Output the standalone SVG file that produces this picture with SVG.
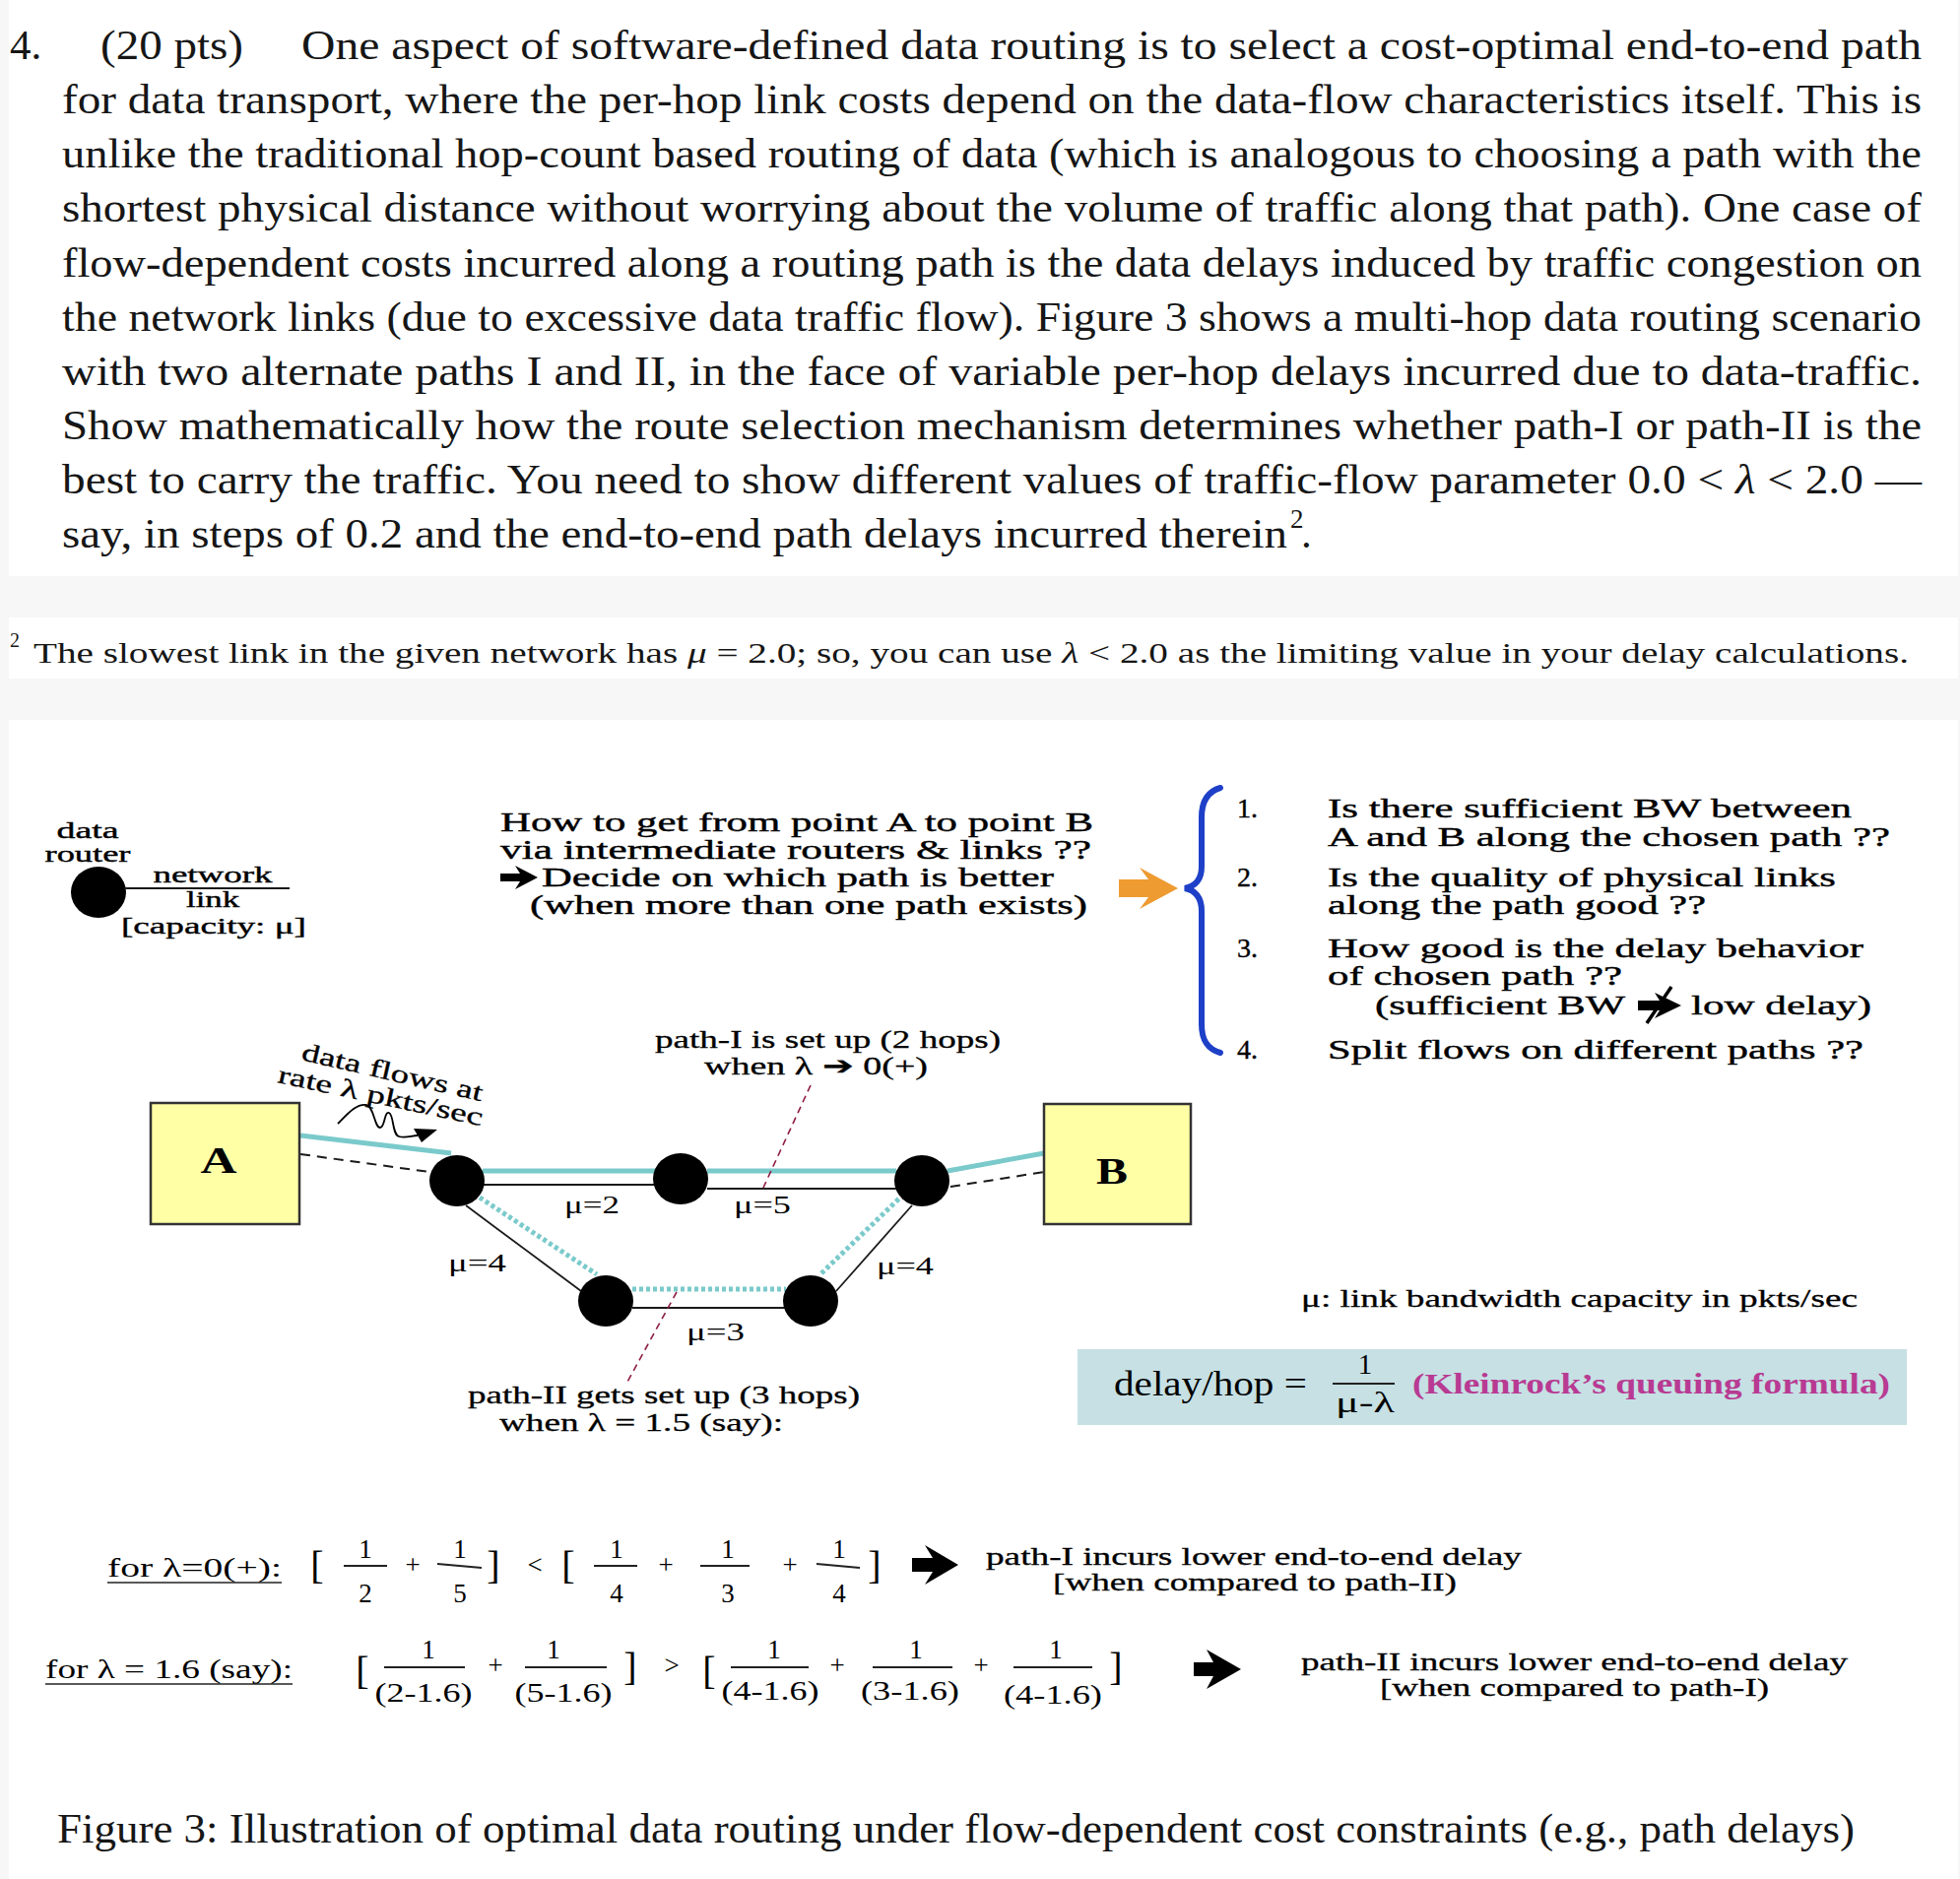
<svg xmlns="http://www.w3.org/2000/svg" width="1990" height="1908" viewBox="0 0 1990 1908">
<style>
text{font-family:"Liberation Serif","Times New Roman",serif;fill:#000}
.para{font-size:43px;fill:#161616}
.fn{font-size:30px;fill:#161616}
.q{font-size:28px;stroke:#000;stroke-width:0.4}
.lg{font-size:24px;stroke:#000;stroke-width:0.4}
.pl{font-size:26px;stroke:#000;stroke-width:0.3}
.mu{font-size:25px}
.f{font-size:27px}
.fc{font-size:25px;stroke:#000;stroke-width:0.3}
.br{font-size:40px}
.cap{font-size:42px;fill:#161616}
.mid{text-anchor:middle}
.teal{stroke:#7BCACB;stroke-width:5;fill:none}
.tdot{stroke:#7BCACB;stroke-width:5;fill:none;stroke-dasharray:4 3}
.blk{stroke:#1a1a1a;stroke-width:1.8;fill:none}
.dash{stroke:#1a1a1a;stroke-width:2;fill:none;stroke-dasharray:10 7}
.lead{stroke:#8E1D45;stroke-width:1.6;fill:none;stroke-dasharray:7 5}
.bar{stroke:#222;stroke-width:1.8}
.router{fill:#000}
.box{fill:#FFFFA6;stroke:#333;stroke-width:2.5}
</style>
<rect x="0" y="0" width="1990" height="1908" fill="#f7f7f7"/>
<rect x="9" y="0" width="1979" height="585" fill="#ffffff"/>
<rect x="9" y="627" width="1979" height="62" fill="#ffffff"/>
<rect x="9" y="731" width="1979" height="1177" fill="#ffffff"/>

<g id="paragraph">
<text class="para" x="10" y="60">4.</text>
<text class="para" x="102" y="60" textLength="145" lengthAdjust="spacingAndGlyphs">(20 pts)</text>
<text class="para" x="306" y="60" textLength="1645" lengthAdjust="spacingAndGlyphs">One aspect of software-defined data routing is to select a cost-optimal end-to-end path</text>
<text class="para" x="63" y="115" textLength="1888" lengthAdjust="spacingAndGlyphs">for data transport, where the per-hop link costs depend on the data-flow characteristics itself.  This is</text>
<text class="para" x="63" y="170" textLength="1888" lengthAdjust="spacingAndGlyphs">unlike the traditional hop-count based routing of data (which is analogous to choosing a path with the</text>
<text class="para" x="63" y="225" textLength="1888" lengthAdjust="spacingAndGlyphs">shortest physical distance without worrying about the volume of traffic along that path).  One case of</text>
<text class="para" x="63" y="281" textLength="1888" lengthAdjust="spacingAndGlyphs">flow-dependent costs incurred along a routing path is the data delays induced by traffic congestion on</text>
<text class="para" x="63" y="336" textLength="1888" lengthAdjust="spacingAndGlyphs">the network links (due to excessive data traffic flow).  Figure 3 shows a multi-hop data routing scenario</text>
<text class="para" x="63" y="391" textLength="1888" lengthAdjust="spacingAndGlyphs">with two alternate paths I and II, in the face of variable per-hop delays incurred due to data-traffic.</text>
<text class="para" x="63" y="446" textLength="1888" lengthAdjust="spacingAndGlyphs">Show mathematically how the route selection mechanism determines whether path-I or path-II is the</text>
<text class="para" x="63" y="501" textLength="1888" lengthAdjust="spacingAndGlyphs">best to carry the traffic.  You need to show different values of traffic-flow parameter 0.0 &lt; <tspan font-style="italic">λ</tspan> &lt; 2.0 —</text>
<text class="para" x="63" y="556" textLength="1244" lengthAdjust="spacingAndGlyphs">say, in steps of 0.2 and the end-to-end path delays incurred therein</text>
<text class="para" x="1310" y="536" style="font-size:27px">2</text>
<text class="para" x="1321" y="556">.</text>
</g>

<g id="footnote">
<text class="fn" x="10" y="657" style="font-size:20px">2</text>
<text class="fn" x="34" y="673" textLength="1904" lengthAdjust="spacingAndGlyphs">The slowest link in the given network has <tspan font-style="italic">μ</tspan> = 2.0; so, you can use <tspan font-style="italic">λ</tspan> &lt; 2.0 as the limiting value in your delay calculations.</text>
</g>

<g id="legend">
<text class="lg mid" x="89" y="851" textLength="63" lengthAdjust="spacingAndGlyphs">data</text>
<text class="lg mid" x="89" y="875" textLength="87" lengthAdjust="spacingAndGlyphs">router</text>
<ellipse class="router" cx="100" cy="906" rx="28" ry="26"/>
<line class="blk" x1="126" y1="902" x2="294" y2="902"/>
<text class="lg mid" x="216" y="896" textLength="121" lengthAdjust="spacingAndGlyphs">network</text>
<text class="lg mid" x="216" y="921" textLength="54" lengthAdjust="spacingAndGlyphs">link</text>
<text class="lg" x="123" y="948" textLength="188" lengthAdjust="spacingAndGlyphs">[capacity: μ]</text>
</g>

<g id="question">
<text class="q" x="508" y="844" textLength="602" lengthAdjust="spacingAndGlyphs">How to get from point A to point B</text>
<text class="q" x="508" y="872" textLength="600" lengthAdjust="spacingAndGlyphs">via intermediate routers &amp; links  ??</text>
<polygon points="508,887 528,887 523,879 546,891 523,903 528,895 508,895" fill="#000"/>
<text class="q" x="550" y="900" textLength="520" lengthAdjust="spacingAndGlyphs">Decide on which path is better</text>
<text class="q" x="538" y="928" textLength="566" lengthAdjust="spacingAndGlyphs">(when more than one path exists)</text>
</g>

<g id="orange-arrow">
<polygon points="1136,893 1166,893 1157,881 1196,902 1157,923 1166,911 1136,911" fill="#EE9B32"/>
</g>

<g id="brace">
<path d="M1239,800 C1225,804 1220,815 1220,830 L1220,880 C1220,894 1213,900 1203,902 C1213,904 1220,911 1220,925 L1220,1040 C1220,1055 1225,1065 1239,1069" fill="none" stroke="#1E40C8" stroke-width="6" stroke-linecap="round"/>
</g>

<g id="list">
<text class="q" x="1256" y="830">1.</text>
<text class="q" x="1348" y="830" textLength="532" lengthAdjust="spacingAndGlyphs">Is there sufficient BW between</text>
<text class="q" x="1348" y="859" textLength="571" lengthAdjust="spacingAndGlyphs">A and B along the chosen path ??</text>
<text class="q" x="1256" y="900">2.</text>
<text class="q" x="1348" y="900" textLength="516" lengthAdjust="spacingAndGlyphs">Is the quality of physical links</text>
<text class="q" x="1348" y="928" textLength="384" lengthAdjust="spacingAndGlyphs">along the path good ??</text>
<text class="q" x="1256" y="972">3.</text>
<text class="q" x="1348" y="972" textLength="544" lengthAdjust="spacingAndGlyphs">How good is the delay behavior</text>
<text class="q" x="1348" y="1000" textLength="299" lengthAdjust="spacingAndGlyphs">of chosen path ??</text>
<text class="q" x="1396" y="1030" textLength="254" lengthAdjust="spacingAndGlyphs">(sufficient BW</text>
<polygon points="1663,1016 1685,1016 1680,1008 1707,1021 1680,1034 1685,1026 1663,1026" fill="#000"/>
<line x1="1672" y1="1039" x2="1697" y2="1002" stroke="#000" stroke-width="3.5"/>
<text class="q" x="1717" y="1030" textLength="183" lengthAdjust="spacingAndGlyphs">low delay)</text>
<text class="q" x="1256" y="1075">4.</text>
<text class="q" x="1348" y="1075" textLength="544" lengthAdjust="spacingAndGlyphs">Split flows on different paths ??</text>
</g>

<g id="connectors">
<line class="teal" x1="305" y1="1153" x2="458" y2="1171"/>
<line class="dash" x1="305" y1="1172" x2="436" y2="1190"/>
<line class="teal" x1="490" y1="1189" x2="666" y2="1189"/>
<line class="blk" x1="490" y1="1203" x2="666" y2="1203"/>
<line class="teal" x1="718" y1="1189" x2="910" y2="1189"/>
<line class="blk" x1="718" y1="1207" x2="910" y2="1207"/>
<line class="teal" x1="962" y1="1189" x2="1060" y2="1171"/>
<line class="dash" x1="965" y1="1205" x2="1060" y2="1190"/>
<line class="blk" x1="473" y1="1224" x2="590" y2="1311"/>
<line class="tdot" x1="487" y1="1216" x2="606" y2="1294"/>
<line class="blk" x1="642" y1="1328" x2="798" y2="1328"/>
<line class="tdot" x1="642" y1="1309" x2="798" y2="1309"/>
<line class="blk" x1="849" y1="1311" x2="926" y2="1224"/>
<line class="tdot" x1="834" y1="1293" x2="914" y2="1216"/>
<line class="lead" x1="823" y1="1102" x2="775" y2="1206"/>
<line class="lead" x1="687" y1="1312" x2="636" y2="1405"/>
</g>

<g id="node-A">
<rect class="box" x="153" y="1120" width="151" height="123"/>
<text x="222" y="1191" class="mid" style="font-size:38px;font-weight:bold" textLength="37" lengthAdjust="spacingAndGlyphs">A</text>
</g>
<g id="node-B">
<rect class="box" x="1060" y="1121" width="149" height="122"/>
<text x="1129" y="1202" class="mid" style="font-size:38px;font-weight:bold" textLength="32" lengthAdjust="spacingAndGlyphs">B</text>
</g>
<g id="router-1"><ellipse class="router" cx="464" cy="1199" rx="28" ry="26"/></g>
<g id="router-2"><ellipse class="router" cx="691" cy="1197" rx="28" ry="26"/></g>
<g id="router-3"><ellipse class="router" cx="936" cy="1199" rx="28" ry="26"/></g>
<g id="router-4"><ellipse class="router" cx="615" cy="1321" rx="28" ry="26"/></g>
<g id="router-5"><ellipse class="router" cx="823" cy="1321" rx="28" ry="26"/></g>

<g id="link-labels">
<text class="mu" x="573" y="1232" textLength="56" lengthAdjust="spacingAndGlyphs">μ=2</text>
<text class="mu" x="745" y="1232" textLength="58" lengthAdjust="spacingAndGlyphs">μ=5</text>
<text class="mu" x="455" y="1291" textLength="59" lengthAdjust="spacingAndGlyphs">μ=4</text>
<text class="mu" x="890" y="1294" textLength="58" lengthAdjust="spacingAndGlyphs">μ=4</text>
<text class="mu" x="697" y="1361" textLength="59" lengthAdjust="spacingAndGlyphs">μ=3</text>
</g>

<g id="flow-label">
<text class="pl" transform="translate(305,1076) rotate(13)" textLength="188" lengthAdjust="spacingAndGlyphs">data flows at</text>
<text class="pl" transform="translate(281,1099) rotate(12)" textLength="212" lengthAdjust="spacingAndGlyphs">rate λ pkts/sec</text>
<path d="M343,1141 C352,1132 362,1120 372,1122 C380,1124 380,1145 386,1145 C391,1145 390,1128 395,1130 C400,1132 398,1152 405,1154 C412,1156 418,1153 424,1153" fill="none" stroke="#000" stroke-width="1.8"/>
<polygon points="420,1146 444,1147 428,1160" fill="#000"/>
</g>

<g id="path-labels">
<text class="pl" x="665" y="1064" textLength="351" lengthAdjust="spacingAndGlyphs">path-I is set up (2 hops)</text>
<text class="pl" x="715" y="1091" textLength="227" lengthAdjust="spacingAndGlyphs">when λ ➔ 0(+)</text>
<text class="pl" x="475" y="1425" textLength="398" lengthAdjust="spacingAndGlyphs">path-II gets set up (3 hops)</text>
<text class="pl" x="507" y="1453" textLength="288" lengthAdjust="spacingAndGlyphs">when λ = 1.5 (say):</text>
</g>

<g id="capacity-note">
<text class="pl" x="1321" y="1327" textLength="565" lengthAdjust="spacingAndGlyphs">μ: link bandwidth capacity in pkts/sec</text>
</g>

<g id="formula-box">
<rect x="1094" y="1370" width="842" height="77" fill="#C6E0E4"/>
<text x="1131" y="1417" style="font-size:36px" textLength="196" lengthAdjust="spacingAndGlyphs">delay/hop =</text>
<text x="1386" y="1395" class="mid" style="font-size:29px">1</text>
<line class="bar" x1="1353" y1="1405" x2="1416" y2="1405"/>
<text x="1386" y="1434" class="mid" style="font-size:30px" textLength="60" lengthAdjust="spacingAndGlyphs">μ-λ</text>
<text x="1434" y="1415" style="font-size:29px;font-weight:bold;fill:#B83A92" textLength="485" lengthAdjust="spacingAndGlyphs">(Kleinrock’s queuing formula)</text>
</g>

<g id="formula-row1">
<text class="f" x="109" y="1601" textLength="177" lengthAdjust="spacingAndGlyphs">for  λ=0(+):</text>
<line x1="109" y1="1607" x2="286" y2="1607" stroke="#222" stroke-width="1.6"/>
<text class="br mid" x="322" y="1603">[</text>
<text class="f mid" x="371" y="1582">1</text>
<line class="bar" x1="349" y1="1590" x2="393" y2="1590"/>
<text class="f mid" x="371" y="1627">2</text>
<text class="f mid" x="419" y="1598">+</text>
<text class="f mid" x="467" y="1582">1</text>
<line class="bar" x1="444" y1="1588" x2="489" y2="1592"/>
<text class="f mid" x="467" y="1627">5</text>
<text class="br mid" x="501" y="1603">]</text>
<text class="f mid" x="543" y="1598">&lt;</text>
<text class="br mid" x="577" y="1603">[</text>
<text class="f mid" x="626" y="1582">1</text>
<line class="bar" x1="603" y1="1590" x2="647" y2="1590"/>
<text class="f mid" x="626" y="1627">4</text>
<text class="f mid" x="676" y="1598">+</text>
<text class="f mid" x="739" y="1582">1</text>
<line class="bar" x1="711" y1="1590" x2="761" y2="1590"/>
<text class="f mid" x="739" y="1627">3</text>
<text class="f mid" x="802" y="1598">+</text>
<text class="f mid" x="852" y="1582">1</text>
<line class="bar" x1="829" y1="1588" x2="873" y2="1592"/>
<text class="f mid" x="852" y="1627">4</text>
<text class="br mid" x="888" y="1603">]</text>
<polygon points="926,1582 947,1582 939,1569 973,1589 939,1609 947,1596 926,1596" fill="#000"/>
<text class="fc" x="1001" y="1589" textLength="544" lengthAdjust="spacingAndGlyphs">path-I incurs lower end-to-end delay</text>
<text class="fc" x="1069" y="1615" textLength="410" lengthAdjust="spacingAndGlyphs">[when compared to path-II)</text>
</g>

<g id="formula-row2">
<text class="f" x="46" y="1704" textLength="251" lengthAdjust="spacingAndGlyphs">for λ = 1.6 (say):</text>
<line x1="46" y1="1710" x2="297" y2="1710" stroke="#222" stroke-width="1.6"/>
<text class="br mid" x="368" y="1710">[</text>
<text class="f mid" x="435" y="1684">1</text>
<line class="bar" x1="390" y1="1693" x2="472" y2="1693"/>
<text class="f mid" x="430" y="1728" textLength="99" lengthAdjust="spacingAndGlyphs">(2-1.6)</text>
<text class="f mid" x="503" y="1700">+</text>
<text class="f mid" x="562" y="1684">1</text>
<line class="bar" x1="533" y1="1693" x2="616" y2="1693"/>
<text class="f mid" x="572" y="1728" textLength="99" lengthAdjust="spacingAndGlyphs">(5-1.6)</text>
<text class="br mid" x="640" y="1706">]</text>
<text class="f mid" x="682" y="1700">&gt;</text>
<text class="br mid" x="720" y="1710">[</text>
<text class="f mid" x="786" y="1684">1</text>
<line class="bar" x1="742" y1="1693" x2="821" y2="1693"/>
<text class="f mid" x="782" y="1726" textLength="99" lengthAdjust="spacingAndGlyphs">(4-1.6)</text>
<text class="f mid" x="850" y="1700">+</text>
<text class="f mid" x="930" y="1684">1</text>
<line class="bar" x1="886" y1="1693" x2="967" y2="1693"/>
<text class="f mid" x="924" y="1726" textLength="100" lengthAdjust="spacingAndGlyphs">(3-1.6)</text>
<text class="f mid" x="996" y="1700">+</text>
<text class="f mid" x="1072" y="1684">1</text>
<line class="bar" x1="1029" y1="1693" x2="1109" y2="1693"/>
<text class="f mid" x="1069" y="1730" textLength="100" lengthAdjust="spacingAndGlyphs">(4-1.6)</text>
<text class="br mid" x="1133" y="1706">]</text>
<polygon points="1212,1688 1232,1688 1225,1675 1260,1695 1225,1715 1232,1702 1212,1702" fill="#000"/>
<text class="fc" x="1321" y="1696" textLength="555" lengthAdjust="spacingAndGlyphs">path-II incurs lower end-to-end delay</text>
<text class="fc" x="1401" y="1722" textLength="395" lengthAdjust="spacingAndGlyphs">[when compared to path-I)</text>
</g>

<g id="caption">
<text class="cap" x="58" y="1871" textLength="1825" lengthAdjust="spacingAndGlyphs">Figure 3:  Illustration of optimal data routing under flow-dependent cost constraints (e.g., path delays)</text>
</g>
</svg>
